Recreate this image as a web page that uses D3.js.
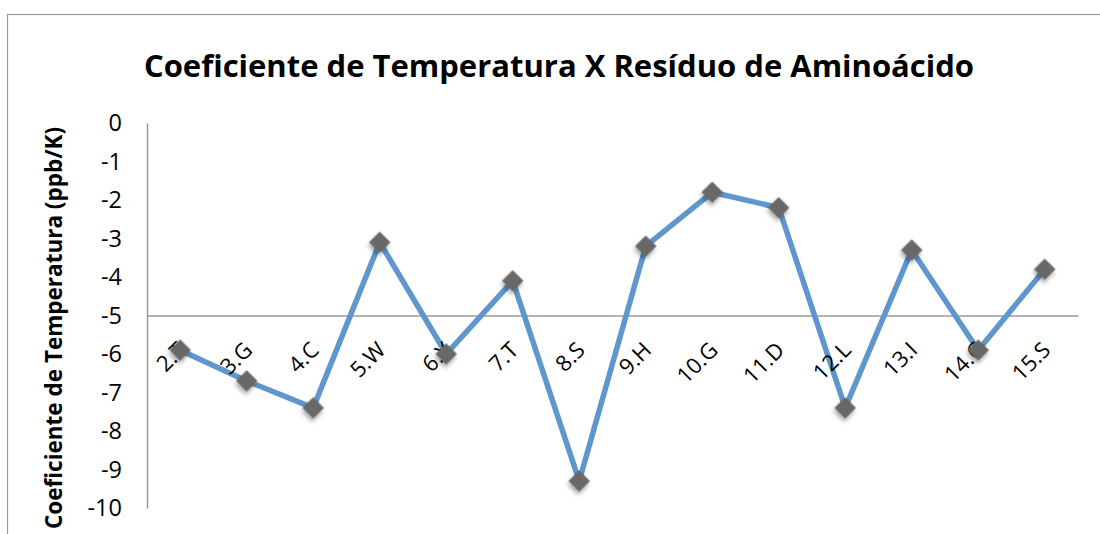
<!DOCTYPE html>
<html>
<head>
  <style>
    body { margin: 0; background: #fff; }
    svg { display: block; font-family: "Open Sans", sans-serif; }
  </style>
</head>
<body>
  <script src="https://d3js.org/d3.v7.min.js"></script>
  <script>
    const residues = ['2.T', '3.G', '4.C', '5.W', '6.Y', '7.T', '8.S', '9.H', '10.G', '11.D', '12.L', '13.I', '14.C', '15.S'];
    const coefs = [-5.9, -6.7, -7.4, -3.1, -6.0, -4.1, -9.3, -3.2, -1.8, -2.2, -7.4, -3.3, -5.9, -3.8];
    const yTicks = [0, -1, -2, -3, -4, -5, -6, -7, -8, -9, -10];

    const chartTitle = 'Coeficiente de Temperatura X Resíduo de Aminoácido';
    const yTitle = 'Coeficiente de Temperatura (ppb/K)';

    const width = 1100, height = 534;
    const plot = { left: 147, right: 1078, top: 123, bottom: 508 };

    const svg = d3.select('body').append('svg')
      .attr('width', width)
      .attr('height', height);

    const defs = svg.append('defs');
    defs.append('filter')
      .attr('id', 'shadow')
      .attr('x', '-50%').attr('y', '-50%')
      .attr('width', '200%').attr('height', '200%')
      .append('feDropShadow')
      .attr('dx', 1.5).attr('dy', 3)
      .attr('stdDeviation', 2)
      .attr('flood-color', '#000')
      .attr('flood-opacity', 0.35);

    // chart border
    svg.append('rect')
      .attr('x', 7.5).attr('y', 14.5)
      .attr('width', 1110).attr('height', 540)
      .attr('fill', 'none')
      .attr('stroke', '#9a9a9a')
      .attr('stroke-width', 1.2);

    // scales
    const x = d3.scaleBand()
      .domain(residues)
      .range([plot.left, plot.right]);

    const y = d3.scaleLinear()
      .domain([-10, 0])
      .range([plot.bottom, plot.top]);

    const cx = d => x(d) + x.bandwidth() / 2;

    // title
    svg.append('text')
      .attr('x', 559)
      .attr('y', 77)
      .attr('text-anchor', 'middle')
      .attr('font-weight', 'bold')
      .attr('font-size', 31)
      .text(chartTitle);

    // y axis title
    svg.append('text')
      .attr('transform', `translate(62, 328) rotate(-90)`)
      .attr('text-anchor', 'middle')
      .attr('font-weight', 'bold')
      .attr('font-size', 22.5)
      .text(yTitle);

    // y axis (plain hyphen for negatives, like the original)
    const yAxis = d3.axisLeft(y)
      .tickValues(yTicks)
      .tickSize(0)
      .tickPadding(25)
      .tickFormat(d => String(d));

    const gy = svg.append('g')
      .attr('transform', `translate(${plot.left}, 0)`)
      .call(yAxis);
    gy.select('.domain').attr('stroke', '#9a9a9a').attr('stroke-width', 1.5);
    gy.selectAll('text')
      .attr('font-size', 23.5)
      .attr('font-family', '"Open Sans", sans-serif')
      .attr('fill', '#000');

    // x axis (crosses at -5)
    const xAxis = d3.axisBottom(x).tickSize(0).tickFormat('');
    const gx = svg.append('g')
      .attr('transform', `translate(0, ${y(-5)})`)
      .call(xAxis);
    gx.select('.domain').attr('stroke', '#9a9a9a').attr('stroke-width', 1.5);

    // line
    const line = d3.line()
      .x((d, i) => cx(residues[i]))
      .y(d => y(d));

    svg.append('path')
      .datum(coefs)
      .attr('d', line)
      .attr('fill', 'none')
      .attr('stroke', '#5e96cd')
      .attr('stroke-width', 5.5)
      .attr('stroke-linejoin', 'round');

    // category labels
    svg.append('g')
      .selectAll('text')
      .data(residues)
      .enter()
      .append('text')
      .attr('transform', d => `translate(${cx(d) + 7}, ${y(-5) + 36}) rotate(-45)`)
      .attr('text-anchor', 'end')
      .attr('font-size', 22)
      .text(d => d);

    // markers
    const diamond = d3.symbol().type(d3.symbolSquare).size(230);
    svg.append('g')
      .selectAll('path')
      .data(coefs)
      .enter()
      .append('path')
      .attr('d', diamond)
      .attr('transform', (d, i) => `translate(${cx(residues[i])}, ${y(d)}) rotate(45)`)
      .attr('fill', '#676767')
      .attr('filter', 'url(#shadow)');
  </script>
</body>
</html>
